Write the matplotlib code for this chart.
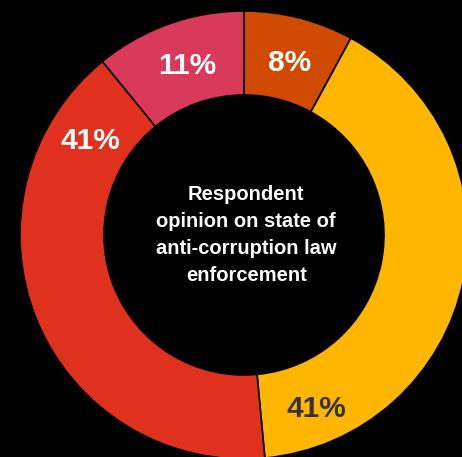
import matplotlib
matplotlib.use("Agg")
import matplotlib.pyplot as plt
import numpy as np

plt.rcParams['font.family'] = ['Liberation Sans', 'DejaVu Sans']

# data, clockwise from 12 o'clock
values = [8, 41, 41, 11]
labels = ['8%', '41%', '41%', '11%']
colors = ['#d04a02', '#ffb600', '#e0301e', '#d93a5a']
label_colors = ['white', '#333333', 'white', 'white']
center_text = 'Respondent\nopinion on state of\nanti-corruption law\nenforcement'

W, H = 462, 457
fig = plt.figure(figsize=(W / 100, H / 100), dpi=100, facecolor='black')
ax = fig.add_axes([0, 0, 1, 1])
ax.set_facecolor('black')

ring = 0.375
wedges, _ = ax.pie(values, colors=colors, startangle=90, counterclock=False,
                   radius=1.0,
                   wedgeprops=dict(width=ring, edgecolor='black', linewidth=1.2))

# labels sit near the trailing end of each slice
label_r = 1.0 - ring / 2 + 0.005
for w, lab, lc in zip(wedges, labels, label_colors):
    t1, t2 = w.theta1, w.theta2  # ccw degrees, t1 < t2
    half = (t2 - t1) / 2
    ang = t1 + min(half, 18)
    x = label_r * np.cos(np.radians(ang))
    y = label_r * np.sin(np.radians(ang)) - 0.024
    ax.text(x, y, lab, ha='center', va='center', color=lc,
            fontsize=21.5, fontweight='bold')

ax.text(0.01, 0.0, center_text, ha='center', va='center', color='white',
        fontsize=14.5, fontweight='bold', linespacing=1.52)

# place center at (244, 235) px with radius 224 px
cx, cy, R = 244, 235, 224
ax.set_aspect('auto')
ax.set_xlim(-cx / R, (W - cx) / R)
ax.set_ylim(-(H - cy) / R, cy / R)
ax.axis('off')

fig.savefig('out.png', dpi=100, facecolor='black')
